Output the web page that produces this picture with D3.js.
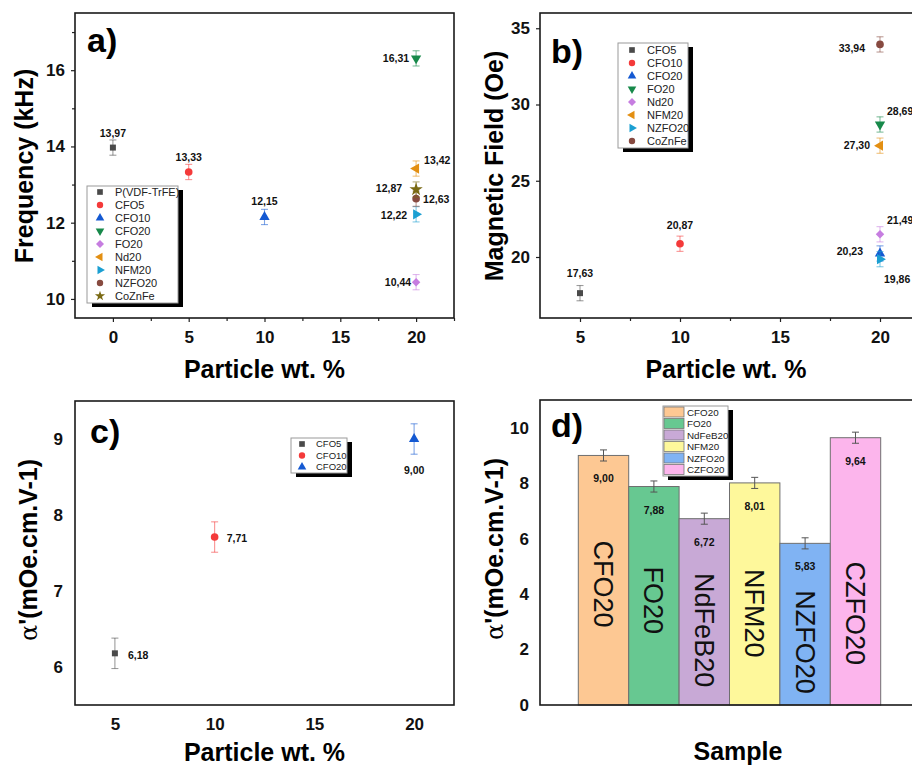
<!DOCTYPE html>
<html><head><meta charset="utf-8">
<script src="https://cdn.jsdelivr.net/npm/d3@7"></script>
<style>
body{margin:0;background:#fff}
svg{display:block;font-family:Arial,"Liberation Sans",Helvetica,sans-serif}
</style>
</head><body>
<svg id="chart" width="912" height="767"></svg>
<script>
// ---------------- DATA ----------------
// Panel a) Frequency vs particle wt.%
const aNames  = ["P(VDF-TrFE)","CFO5","CFO10","CFO20","FO20","Nd20","NFM20","NZFO20","CoZnFe"];
const aX      = [0, 5, 10, 20, 20, 20, 20, 20, 20];
const aY      = [13.97, 13.33, 12.15, 16.31, 10.44, 13.42, 12.22, 12.63, 12.87];
const aErr    = [0.2, 0.2, 0.2, 0.2, 0.2, 0.2, 0.2, 0.2, 0.2];
const aXTicks = [0, 5, 10, 15, 20];
const aYTicks = [10, 12, 14, 16];

// Panel b) Magnetic field vs particle wt.%
const bNames  = ["CFO5","CFO10","CFO20","FO20","Nd20","NFM20","NZFO20","CoZnFe"];
const bX      = [5, 10, 20, 20, 20, 20, 20, 20];
const bY      = [17.63, 20.87, 20.23, 28.69, 21.49, 27.30, 19.86, 33.94];
const bErr    = [0.5, 0.5, 0.5, 0.5, 0.5, 0.5, 0.5, 0.5];
const bXTicks = [5, 10, 15, 20];
const bYTicks = [20, 25, 30, 35];

// Panel c) alpha' vs particle wt.%
const cNames  = ["CFO5","CFO10","CFO20"];
const cX      = [5, 10, 20];
const cY      = [6.18, 7.71, 9.00];
const cErr    = [0.2, 0.2, 0.2];
const cXTicks = [5, 10, 15, 20];
const cYTicks = [6, 7, 8, 9];

// Panel d) alpha' per sample (bars)
const dNames  = ["CFO20","FO20","NdFeB20","NFM20","NZFO20","CZFO20"];
const dY      = [9.00, 7.88, 6.72, 8.01, 5.83, 9.64];
const dErr    = [0.2, 0.2, 0.2, 0.2, 0.2, 0.2];
const dYTicks = [0, 2, 4, 6, 8, 10];

// ---------------- STYLE ----------------
const sym = {
  square:  {t: d3.symbolSquare,   r: 0},
  circle:  {t: d3.symbolCircle,   r: 0},
  up:      {t: d3.symbolTriangle, r: 0},
  down:    {t: d3.symbolTriangle, r: 180},
  diamond: {t: d3.symbolSquare,   r: 45},
  left:    {t: d3.symbolTriangle, r: -90},
  right:   {t: d3.symbolTriangle, r: 90},
  hex:     {t: d3.symbolCircle,   r: 0},
  star:    {t: d3.symbolStar,     r: 0}
};
const C = {grey:"#4a4a4a", red:"#f43a3a", blue:"#1459d2", green:"#17894a", violet:"#c67de0",
           orange:"#e38f12", cyan:"#1b9fd2", brown:"#874a40", olive:"#7a6a14"};
const aStyle = [["square",C.grey],["circle",C.red],["up",C.blue],["down",C.green],["diamond",C.violet],
                ["left",C.orange],["right",C.cyan],["hex",C.brown],["star",C.olive]];
const bStyle = [["square",C.grey],["circle",C.red],["up",C.blue],["down",C.green],["diamond",C.violet],
                ["left",C.orange],["right",C.cyan],["circle",C.brown]];
const cStyle = [["square",C.grey],["circle",C.red],["up",C.blue]];
const dColors = ["#fdc893","#67c891","#c8a9d6","#fef89b","#80b3f3","#fcb5ec"];
// label offsets (px) and anchors
const aLab = [[0,-14,"middle"],[0,-15,"middle"],[0,-16,"middle"],[-7,0,"end"],[-5,0,"end"],
              [8,-8,"start"],[-9,1,"end"],[7,1,"start"],[-14,-1,"end"]];
const bLab = [[0,-20,"middle"],[0,-18,"middle"],[-17,-2,"end"],[7,-13,"start"],[7,-14,"start"],
              [-10,0,"end"],[4,20,"start"],[-15,4,"end"]];
const cLab = [[13,2,"start"],[12,1,"start"],[0,31,"middle"]];

const fmt = v => d3.format(".2f")(v).replace(".", ",");
const svg = d3.select("#chart");
svg.append("rect").attr("width",912).attr("height",767).attr("fill","#fff");

function symPath(name, size){ return d3.symbol().type(sym[name].t).size(size)(); }

function legend(g, x0, y0, w, h, items, rowY, fs, markX, textX, kind){
  g.append("rect").attr("x",x0+5).attr("y",y0+4).attr("width",w).attr("height",h).attr("fill","#000");
  g.append("rect").attr("x",x0).attr("y",y0).attr("width",w).attr("height",h)
    .attr("fill","#fff").attr("stroke","#9a9a9a").attr("stroke-width",1);
  items.forEach((it,i)=>{
    const yy = y0 + rowY(i);
    if(kind==="bar"){
      g.append("rect").attr("x",x0+markX).attr("y",yy-5).attr("width",20).attr("height",10)
        .attr("fill",it.color).attr("stroke","#777").attr("stroke-width",0.8);
    } else {
      g.append("path").attr("d",symPath(it.shape, 32))
        .attr("transform",`translate(${x0+markX},${yy}) rotate(${sym[it.shape].r})`)
        .attr("fill",it.color);
    }
    g.append("text").attr("x",x0+textX).attr("y",yy).attr("dy","0.36em")
      .attr("font-size",fs).attr("fill","#222").text(it.name);
  });
}

function scatterPanel(o){
  const g = svg.append("g");
  const x = d3.scaleLinear().domain(o.xDom).range([o.L, o.R]);
  const y = d3.scaleLinear().domain(o.yDom).range([o.B, o.T]);
  const xa = g.append("g").attr("transform",`translate(0,${o.B})`)
    .call(d3.axisBottom(x).tickValues(o.xTicks).tickSize(o.tick).tickPadding(o.xPad).tickFormat(d3.format("d")));
  const ya = g.append("g").attr("transform",`translate(${o.L},0)`)
    .call(d3.axisLeft(y).tickValues(o.yTicks).tickSize(o.tick).tickPadding(o.yPad).tickFormat(d3.format("d")));
  [xa,ya].forEach(a=>{
    a.select(".domain").remove();
    a.selectAll("line").attr("stroke","#222").attr("stroke-width",1.2);
    a.selectAll("text").attr("font-size",17).attr("font-weight","bold").attr("fill","#111")
      .attr("font-family","Arial, 'Liberation Sans', sans-serif");
  });
  if(o.xMinor){
    const m = g.append("g").attr("transform",`translate(0,${o.B})`)
      .call(d3.axisBottom(x).tickValues(o.xMinor).tickSize(3).tickFormat(""));
    m.select(".domain").remove(); m.selectAll("line").attr("stroke","#222").attr("stroke-width",1.2);
  }
  if(o.yMinor){
    const m = g.append("g").attr("transform",`translate(${o.L},0)`)
      .call(d3.axisLeft(y).tickValues(o.yMinor).tickSize(3).tickFormat(""));
    m.select(".domain").remove(); m.selectAll("line").attr("stroke","#222").attr("stroke-width",1.2);
  }
  g.append("rect").attr("x",o.L).attr("y",o.T).attr("width",o.R-o.L).attr("height",o.B-o.T)
    .attr("fill","none").attr("stroke","#1a1a1a").attr("stroke-width",1.6);
  o.X.forEach((xv,i)=>{
    const col = o.style[i][1], shp = o.style[i][0];
    const px = x(xv), y1 = y(o.Y[i]-o.E[i]), y2 = y(o.Y[i]+o.E[i]);
    const eb = g.append("g").attr("stroke",col).attr("stroke-opacity",0.55).attr("stroke-width",1.1);
    eb.append("line").attr("x1",px).attr("x2",px).attr("y1",y1).attr("y2",y2);
    eb.append("line").attr("x1",px-3.5).attr("x2",px+3.5).attr("y1",y1).attr("y2",y1);
    eb.append("line").attr("x1",px-3.5).attr("x2",px+3.5).attr("y1",y2).attr("y2",y2);
    const size = shp==="square"||shp==="diamond" ? 36 : (shp==="star"?55:46);
    g.append("path").attr("d",symPath(shp,size))
      .attr("transform",`translate(${px},${y(o.Y[i])}) rotate(${sym[shp].r})`).attr("fill",col);
    const lb = o.lab[i];
    g.append("text").attr("x",px+lb[0]).attr("y",y(o.Y[i])+lb[1]).attr("dy","0.35em")
      .attr("text-anchor",lb[2]).attr("font-size",o.labFs).attr("font-weight","bold").attr("fill","#111")
      .text(fmt(o.Y[i]));
  });
  g.append("text").attr("x",o.letter[0]).attr("y",o.letter[1]).attr("font-size",34)
    .attr("font-weight","bold").attr("fill","#000").text(o.letter[2]);
  g.append("text").attr("x",(o.L+Math.min(o.R,912))/2 ).attr("y",o.xtY).attr("text-anchor","middle")
    .attr("font-size",25).attr("font-weight","bold").attr("fill","#000").text("Particle wt. %");
  return {g,x,y};
}

function yTitle(cx, cy, parts){
  const t = svg.append("text").attr("transform",`translate(${cx},${cy}) rotate(-90)`)
    .attr("text-anchor","middle").attr("dy","0.35em").attr("font-size",25).attr("font-weight","bold").attr("fill","#000");
  parts.forEach(p=>{
    const ts = t.append("tspan").text(p.t);
    if(p.serif) ts.attr("font-family","'DejaVu Serif','Liberation Serif',serif").attr("font-weight","normal").attr("font-size",24);
  });
}

// ---------- Panel a ----------
scatterPanel({L:75,T:13,R:454,B:318,xDom:[-2.5,22.5],yDom:[9.5,17.5],
  xTicks:aXTicks,yTicks:aYTicks,xMinor:[2.5,7.5,12.5,17.5,22.5],yMinor:[11,13,15,17],
  tick:4,xPad:9,yPad:6,X:aX,Y:aY,E:aErr,style:aStyle,lab:aLab,labFs:10.5,
  letter:[87,52,"a)"],xtY:378});
yTitle(24,166,[{t:"Frequency (kHz)"}]);
legend(svg.append("g"),87,186,91,117,
  aNames.map((n,i)=>({name:n,shape:aStyle[i][0],color:aStyle[i][1]})),
  i=>6+i*13,11,13,28,"sym");

// ---------- Panel b ----------
scatterPanel({L:540,T:13,R:930,B:318,xDom:[3,22.5],yDom:[16,36],
  xTicks:bXTicks,yTicks:bYTicks,xMinor:[7.5,12.5,17.5],yMinor:null,
  tick:4,xPad:9,yPad:6,X:bX,Y:bY,E:bErr,style:bStyle,lab:bLab,labFs:10.5,
  letter:[551,63,"b)"],xtY:378});
yTitle(494,166,[{t:"Magnetic Field (Oe)"}]);
legend(svg.append("g"),618,43,70,105,
  bNames.map((n,i)=>({name:n,shape:bStyle[i][0],color:bStyle[i][1]})),
  i=>7+i*13,11,14,29,"sym");

// ---------- Panel c ----------
scatterPanel({L:75,T:401,R:454,B:705,xDom:[3,22],yDom:[5.5,9.5],
  xTicks:cXTicks,yTicks:cYTicks,xMinor:null,yMinor:null,
  tick:0,xPad:13,yPad:12,X:cX,Y:cY,E:cErr,style:cStyle,lab:cLab,labFs:10.5,
  letter:[90,443,"c)"],xtY:761});
yTitle(28,550,[{t:"α",serif:true},{t:"'(mOe.cm.V-1)"}]);
legend(svg.append("g"),291,438,56,35,
  cNames.map((n,i)=>({name:n,shape:cStyle[i][0],color:cStyle[i][1]})),
  i=>6+i*11.5,9.5,11,25,"sym");

// ---------- Panel d ----------
(function(){
  const L=540,T=400,R=919,B=705;
  const g = svg.append("g");
  const x = d3.scaleBand().domain(dNames).range([L,R]).paddingInner(0).paddingOuter(0.76);
  const y = d3.scaleLinear().domain([0,11]).range([B,T]);
  const ya = g.append("g").attr("transform",`translate(${L},0)`)
    .call(d3.axisLeft(y).tickValues(dYTicks).tickSize(0).tickPadding(11).tickFormat(d3.format("d")));
  ya.select(".domain").remove();
  ya.selectAll("text").attr("font-size",17).attr("font-weight","bold").attr("fill","#111");
  g.selectAll("rect.bar").data(dNames).join("rect").attr("class","bar")
    .attr("x",d=>x(d)).attr("width",x.bandwidth())
    .attr("y",(d,i)=>y(dY[i])).attr("height",(d,i)=>y(0)-y(dY[i]))
    .attr("fill",(d,i)=>dColors[i]).attr("stroke","#6f6f6f").attr("stroke-width",1);
  dNames.forEach((d,i)=>{
    const cx = x(d)+x.bandwidth()/2, y1=y(dY[i]-dErr[i]), y2=y(dY[i]+dErr[i]);
    const eb = g.append("g").attr("stroke","#555").attr("stroke-width",1);
    eb.append("line").attr("x1",cx).attr("x2",cx).attr("y1",y1).attr("y2",y2);
    eb.append("line").attr("x1",cx-3.5).attr("x2",cx+3.5).attr("y1",y1).attr("y2",y1);
    eb.append("line").attr("x1",cx-3.5).attr("x2",cx+3.5).attr("y1",y2).attr("y2",y2);
    g.append("text").attr("x",cx).attr("y",y(dY[i])+27).attr("text-anchor","middle")
      .attr("font-size",10.5).attr("font-weight","bold").attr("fill","#111").text(fmt(dY[i]));
  });
  // rotated names inside bars (vertical centre in data units)
  const nameMid = [4.36, 3.78, 2.70, 3.31, 2.27, 3.31];
  dNames.forEach((d,i)=>{
    const cx = x(d)+x.bandwidth()/2;
    g.append("text").attr("transform",`translate(${cx},${y(nameMid[i])}) rotate(90)`)
      .attr("text-anchor","middle").attr("dy","0.35em").attr("font-size",27).attr("fill","#111").text(d);
  });
  g.append("rect").attr("x",L).attr("y",T).attr("width",R-L).attr("height",B-T)
    .attr("fill","none").attr("stroke","#1a1a1a").attr("stroke-width",1.6);
  g.append("text").attr("x",551).attr("y",437).attr("font-size",34).attr("font-weight","bold").text("d)");
  g.append("text").attr("x",738).attr("y",760).attr("text-anchor","middle")
    .attr("font-size",25).attr("font-weight","bold").text("Sample");
  yTitle(494,549,[{t:"α",serif:true},{t:"'(mOe.cm.V-1)"}]);
  legend(svg.append("g"),663,406,65,70,
    dNames.map((n,i)=>({name:n,color:dColors[i]})),
    i=>6+i*11.5,9.8,1,24,"bar");
})();
</script>
</body></html>
